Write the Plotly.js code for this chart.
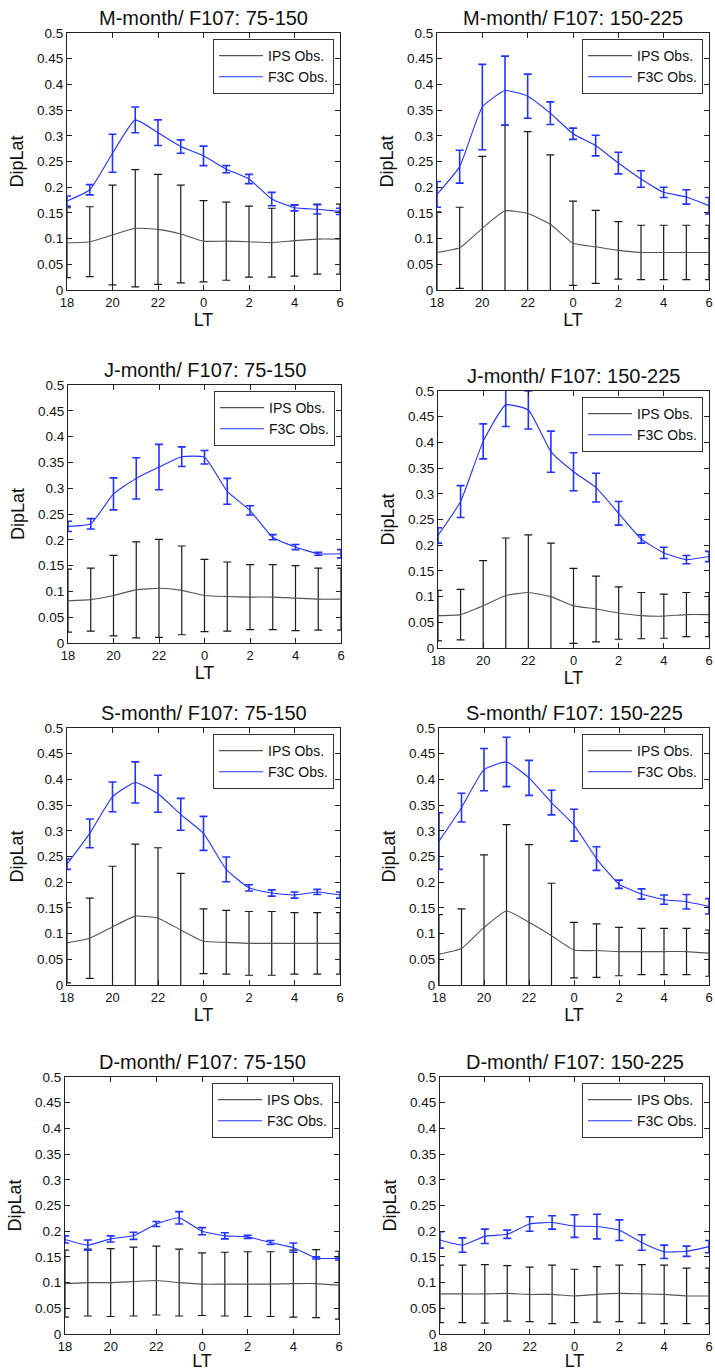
<!DOCTYPE html>
<html>
<head>
<meta charset="utf-8">
<script src="https://cdn.plot.ly/plotly-3.0.1.min.js"></script>
<style>
html,body{margin:0;padding:0;background:#fff;}
#chart{width:715px;height:1371px;}
</style>
</head>
<body>
<div id="chart"></div>
<script>
// ---------- data ----------
const ltLabels  = ['18','19','20','21','22','23','0','1','2','3','4','5','6'];
const xTickVals = ['18','20','22','0','2','4','6'];
const yTickVals = [0,0.05,0.1,0.15,0.2,0.25,0.3,0.35,0.4,0.45,0.5];
const yTickText = ['0','0.05','0.1','0.15','0.2','0.25','0.3','0.35','0.4','0.45','0.5'];
const seriesNames = ['IPS Obs.','F3C Obs.'];
const panelTitles = [
  'M-month/ F107: 75-150','M-month/ F107: 150-225',
  'J-month/ F107: 75-150','J-month/ F107: 150-225',
  'S-month/ F107: 75-150','S-month/ F107: 150-225',
  'D-month/ F107: 75-150','D-month/ F107: 150-225'
];
const xTitle = 'LT';
const yTitle = 'DipLat';

// M-month, F107 75-150
const ipsM75    = [0.092,0.094,0.107,0.120,0.118,0.109,0.095,0.095,0.094,0.092,0.096,0.099,0.099];
const ipsM75Err = [0.068,0.068,0.097,0.114,0.107,0.095,0.079,0.076,0.069,0.067,0.069,0.068,0.068];
const f3cM75    = [0.173,0.195,0.266,0.331,0.306,0.279,0.261,0.235,0.216,0.177,0.160,0.157,0.153];
const f3cM75Err = [0.010,0.010,0.037,0.025,0.025,0.013,0.019,0.007,0.009,0.013,0.006,0.009,0.006];
// M-month, F107 150-225
const ipsM150    = [0.073,0.082,0.120,0.154,0.149,0.128,0.091,0.084,0.077,0.073,0.073,0.073,0.073];
const ipsM150Err = [0.079,0.079,0.140,0.166,0.159,0.135,0.082,0.071,0.056,0.053,0.053,0.053,0.053];
const f3cM150    = [0.186,0.240,0.356,0.388,0.377,0.344,0.304,0.281,0.247,0.216,0.190,0.181,0.164];
const f3cM150Err = [0.025,0.032,0.083,0.067,0.043,0.022,0.011,0.020,0.021,0.016,0.010,0.014,0.016];
// J-month, F107 75-150
const ipsJ75    = [0.082,0.084,0.092,0.103,0.106,0.102,0.092,0.090,0.089,0.089,0.087,0.085,0.085];
const ipsJ75Err = [0.061,0.061,0.078,0.093,0.095,0.086,0.070,0.067,0.063,0.063,0.063,0.060,0.060];
const f3cJ75    = [0.226,0.231,0.289,0.319,0.341,0.361,0.360,0.294,0.257,0.205,0.186,0.173,0.173];
const f3cJ75Err = [0.010,0.010,0.031,0.040,0.044,0.019,0.013,0.025,0.009,0.005,0.005,0.003,0.008];
// J-month, F107 150-225
const ipsJ150    = [0.063,0.065,0.082,0.102,0.108,0.100,0.082,0.076,0.068,0.063,0.062,0.065,0.065];
const ipsJ150Err = [0.049,0.049,0.088,0.112,0.112,0.104,0.073,0.064,0.051,0.045,0.043,0.043,0.043];
const f3cJ150    = [0.219,0.285,0.402,0.473,0.463,0.382,0.343,0.312,0.262,0.212,0.185,0.172,0.178];
const f3cJ150Err = [0.015,0.031,0.034,0.042,0.037,0.040,0.037,0.028,0.023,0.008,0.011,0.008,0.010];
// S-month, F107 75-150
const ipsS75    = [0.082,0.091,0.113,0.134,0.130,0.107,0.085,0.083,0.081,0.081,0.081,0.081,0.081];
const ipsS75Err = [0.078,0.078,0.118,0.140,0.137,0.110,0.063,0.062,0.062,0.062,0.060,0.060,0.060];
const f3cS75    = [0.235,0.295,0.366,0.394,0.372,0.332,0.295,0.225,0.189,0.179,0.175,0.181,0.175];
const f3cS75Err = [0.010,0.028,0.029,0.040,0.036,0.031,0.033,0.024,0.006,0.006,0.006,0.005,0.006];
// S-month, F107 150-225
const ipsS150    = [0.060,0.071,0.112,0.144,0.122,0.096,0.068,0.067,0.065,0.065,0.065,0.065,0.062];
const ipsS150Err = [0.077,0.077,0.141,0.168,0.151,0.102,0.054,0.052,0.047,0.045,0.045,0.045,0.045];
const f3cS150    = [0.280,0.345,0.419,0.434,0.403,0.355,0.311,0.246,0.196,0.177,0.166,0.162,0.153];
const f3cS150Err = [0.055,0.028,0.041,0.048,0.034,0.024,0.031,0.023,0.008,0.010,0.009,0.014,0.015];
// D-month, F107 75-150
const ipsD75    = [0.098,0.100,0.100,0.102,0.104,0.100,0.097,0.097,0.097,0.097,0.098,0.098,0.095];
const ipsD75Err = [0.065,0.065,0.066,0.067,0.067,0.065,0.061,0.062,0.063,0.063,0.065,0.066,0.066];
const f3cD75    = [0.184,0.173,0.185,0.191,0.214,0.226,0.200,0.191,0.189,0.178,0.168,0.148,0.147];
const f3cD75Err = [0.007,0.010,0.006,0.007,0.005,0.012,0.007,0.006,0.003,0.004,0.009,0.002,0.003];
// D-month, F107 150-225
const ipsD150    = [0.078,0.078,0.078,0.079,0.077,0.077,0.074,0.077,0.079,0.078,0.077,0.074,0.074];
const ipsD150Err = [0.056,0.056,0.057,0.054,0.053,0.057,0.052,0.054,0.055,0.057,0.057,0.054,0.054];
const f3cD150    = [0.183,0.173,0.190,0.194,0.214,0.217,0.210,0.209,0.202,0.178,0.160,0.161,0.170];
const f3cD150Err = [0.016,0.014,0.014,0.008,0.014,0.013,0.022,0.024,0.020,0.015,0.013,0.010,0.012];

// ---------- layout (pixel boxes of plot areas: left, top, right, bottom) ----------
const W = 715, H = 1371;
const boxes = [
  [67,33,340,290],[437,33,709,290],
  [68,385,341,643],[438,391,709,648],
  [67,728,340,985],[439,728,709,985],
  [65,1077,339,1334],[440,1077,709,1334]
];
const panels = [
  [ipsM75,ipsM75Err,f3cM75,f3cM75Err],[ipsM150,ipsM150Err,f3cM150,f3cM150Err],
  [ipsJ75,ipsJ75Err,f3cJ75,f3cJ75Err],[ipsJ150,ipsJ150Err,f3cJ150,f3cJ150Err],
  [ipsS75,ipsS75Err,f3cS75,f3cS75Err],[ipsS150,ipsS150Err,f3cS150,f3cS150Err],
  [ipsD75,ipsD75Err,f3cD75,f3cD75Err],[ipsD150,ipsD150Err,f3cD150,f3cD150Err]
];

const FONT = 'Liberation Sans, Arial, Helvetica, sans-serif';
const BLUE = '#2233ff';
const GREY = '#555555';

const traces = [];
const subplotIds = [];
const layout = {
  width: W, height: H,
  margin: {l:0,r:0,t:0,b:0},
  paper_bgcolor: '#fff', plot_bgcolor: '#fff',
  font: {family: FONT, color: '#000', size: 12},
  showlegend: true,
  annotations: []
};

panels.forEach((p, i) => {
  const n = i + 1;
  const sfx = n === 1 ? '' : String(n);
  const xa = 'x' + sfx, ya = 'y' + sfx;
  subplotIds.push(xa + ya);
  const lg = 'legend' + sfx;
  const [l, t, r, b] = boxes[i];
  traces.push({
    type: 'scatter', mode: 'lines', name: seriesNames[0],
    x: ltLabels, y: p[0], xaxis: xa, yaxis: ya, legend: lg,
    line: {color: GREY, width: 1.1, shape: 'spline', smoothing: 0.45},
    error_y: {type: 'data', array: p[1], visible: true, color: '#1a1a1a', thickness: 1.2, width: 4}
  });
  traces.push({
    type: 'scatter', mode: 'lines', name: seriesNames[1],
    x: ltLabels, y: p[2], xaxis: xa, yaxis: ya, legend: lg,
    line: {color: BLUE, width: 1.1, shape: 'spline', smoothing: 0.45},
    error_y: {type: 'data', array: p[3], visible: true, color: BLUE, thickness: 1.6, width: 4}
  });
  layout['xaxis' + sfx] = {
    domain: [l / W, r / W], anchor: ya,
    type: 'category', categoryorder: 'array', categoryarray: ltLabels,
    range: [0, 12], tickmode: 'array', tickvals: xTickVals,
    ticks: 'inside', ticklen: 5, tickcolor: '#222', tickwidth: 1,
    showline: true, linecolor: '#222', linewidth: 1, mirror: 'ticks',
    showgrid: false, zeroline: false, fixedrange: true,
    tickfont: {family: FONT, size: 13, color: '#111'},
    title: {text: xTitle, font: {family: FONT, size: 18, color: '#111'}, standoff: 2}
  };
  layout['yaxis' + sfx] = {
    domain: [1 - b / H, 1 - t / H], anchor: xa,
    range: [0, 0.5], tickmode: 'array', tickvals: yTickVals, ticktext: yTickText,
    ticks: 'inside', ticklen: 5, tickcolor: '#222', tickwidth: 1,
    showline: true, linecolor: '#222', linewidth: 1, mirror: 'ticks',
    showgrid: false, zeroline: false, fixedrange: true,
    tickfont: {family: FONT, size: 13.5, color: '#111'},
    title: {text: yTitle, font: {family: FONT, size: 18, color: '#111'}, standoff: 8}
  };
  layout[lg] = {
    x: (r - 6) / W, y: 1 - (t + 6) / H, xanchor: 'right', yanchor: 'top',
    xref: 'paper', yref: 'paper',
    bgcolor: '#fff', bordercolor: '#333', borderwidth: 1,
    font: {family: FONT, size: 14, color: '#111'},
    itemwidth: 44, tracegroupgap: 0
  };
  layout.annotations.push({
    text: panelTitles[i], xref: 'paper', yref: 'paper',
    x: (l + r) / 2 / W, y: 1 - t / H, xanchor: 'center', yanchor: 'bottom',
    yshift: 2, showarrow: false,
    font: {family: FONT, size: 20, color: '#111', weight: 'normal'}
  });
});

Plotly.newPlot('chart', traces, layout, {staticPlot: true, displayModeBar: false}).then(gd => {
  // clip error bars to the plot area, as in the original figure
  const fl = gd._fullLayout;
  const svgNS = 'http://www.w3.org/2000/svg';
  const mainSvg = gd.querySelector('svg.main-svg');
  let defs = mainSvg.querySelector('defs');
  if (!defs) { defs = document.createElementNS(svgNS, 'defs'); mainSvg.insertBefore(defs, mainSvg.firstChild); }
  subplotIds.forEach((id, k) => {
    const pi = fl._plots[id];
    if (!pi || !pi.plot) return;
    const cp = document.createElementNS(svgNS, 'clipPath');
    cp.setAttribute('id', 'errclip' + k);
    const rect = document.createElementNS(svgNS, 'rect');
    rect.setAttribute('x', 0); rect.setAttribute('y', 0);
    rect.setAttribute('width', pi.xaxis._length);
    rect.setAttribute('height', pi.yaxis._length);
    cp.appendChild(rect);
    defs.appendChild(cp);
    pi.plot.node().querySelectorAll('.errorbars').forEach(el => {
      el.setAttribute('clip-path', 'url(#errclip' + k + ')');
    });
  });
});
</script>
</body>
</html>
